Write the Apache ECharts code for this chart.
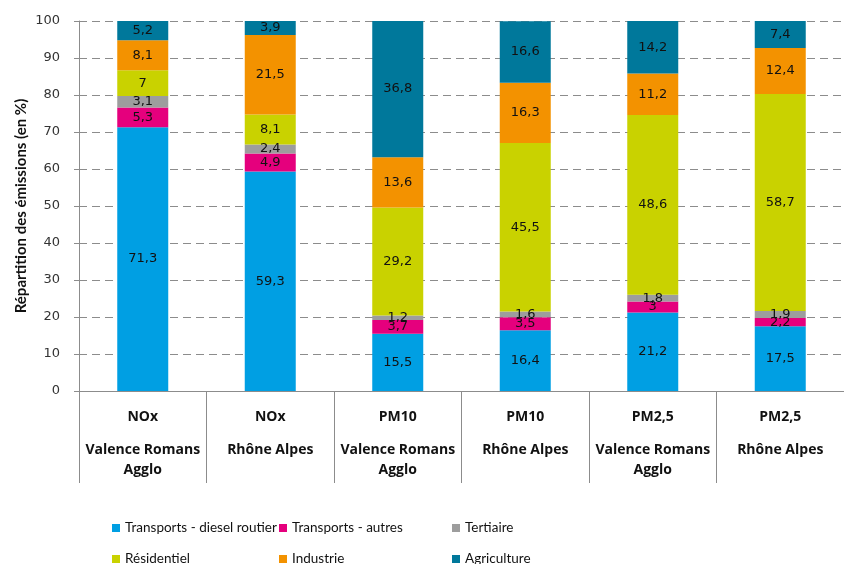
<!DOCTYPE html>
<html>
<head>
<meta charset="utf-8">
<script src="https://cdn.jsdelivr.net/npm/echarts@6/dist/echarts.min.js"></script>
<style>html,body{margin:0;padding:0;background:#fff}#c{width:844px;height:564px}</style>
</head>
<body>
<div id="c"></div>
<script>
var pollutants = ['NOx', 'NOx', 'PM10', 'PM10', 'PM2,5', 'PM2,5'];
var territories = ['Valence Romans\nAgglo', 'Rhône Alpes', 'Valence Romans\nAgglo', 'Rhône Alpes', 'Valence Romans\nAgglo', 'Rhône Alpes'];
var seriesNames = ['Transports - diesel routier', 'Transports - autres', 'Tertiaire', 'Résidentiel', 'Industrie', 'Agriculture'];
var dieselRoutier = [71.3, 59.3, 15.5, 16.4, 21.2, 17.5];
var transportsAutres = [5.3, 4.9, 3.7, 3.5, 3, 2.2];
var tertiaire = [3.1, 2.4, 1.2, 1.6, 1.8, 1.9];
var residentiel = [7, 8.1, 29.2, 45.5, 48.6, 58.7];
var industrie = [8.1, 21.5, 13.6, 16.3, 11.2, 12.4];
var agriculture = [5.2, 3.9, 36.8, 16.6, 14.2, 7.4];
var yTicks = [0, 10, 20, 30, 40, 50, 60, 70, 80, 90, 100];

var colors = ['#009FE3', '#E5007D', '#9D9D9D', '#C9D200', '#F39200', '#00789B'];
var allData = [dieselRoutier, transportsAutres, tertiaire, residentiel, industrie, agriculture];
var categories = pollutants.map(function (p, i) { return p + '|' + territories[i]; });

var series = seriesNames.map(function (n, i) {
  return {
    name: n,
    type: 'bar',
    stack: 'total',
    barWidth: '40%',
    itemStyle: { color: colors[i] },
    label: {
      show: true,
      position: 'inside',
      color: '#111',
      fontFamily: 'DejaVu Sans',
      fontSize: 13,
      formatter: function (p) { return String(p.value).replace('.', ','); }
    },
    data: allData[i]
  };
});

var legendFont = { fontFamily: 'Lato', fontSize: 13.5, color: '#111' };
var legendPos = [[112, 521], [279, 521], [452, 521], [112, 552], [279, 552], [452, 552]];
var legends = seriesNames.map(function (n, i) {
  return {
    left: legendPos[i][0], top: legendPos[i][1], padding: 0,
    itemWidth: 8, itemHeight: 8, icon: 'rect', itemGap: 0,
    textStyle: legendFont, data: [n], selectedMode: false
  };
});

var chart = echarts.init(document.getElementById('c'));
chart.setOption({
  animation: false,
  color: colors,
  grid: { left: 79, top: 21, width: 773, bottom: 173, containLabel: false },
  legend: legends,
  xAxis: {
    type: 'category',
    data: categories,
    axisLine: { lineStyle: { color: '#8c8c8c' } },
    axisTick: { show: true, length: 92, lineStyle: { color: '#8c8c8c' } },
    axisLabel: {
      interval: 0,
      margin: 3,
      formatter: function (v) {
        var parts = v.split('|');
        var lines = parts[1].split('\n');
        return '{a|' + parts[0] + '}\n' + lines.map(function (l) { return '{b|' + l + '}'; }).join('\n');
      },
      rich: {
        a: { fontFamily: 'Open Sans', fontWeight: 'bold', fontSize: 14, color: '#111', lineHeight: 46 },
        b: { fontFamily: 'Open Sans', fontWeight: 'bold', fontSize: 14, color: '#111', lineHeight: 20 }
      }
    }
  },
  yAxis: {
    type: 'value',
    min: yTicks[0],
    max: yTicks[yTicks.length - 1],
    interval: 10,
    name: 'Répartition des émissions (en %)',
    nameLocation: 'middle',
    nameGap: 50,
    nameMoveOverlap: false,
    nameTextStyle: { fontFamily: 'Lato', fontWeight: 'bold', fontSize: 15, color: '#111' },
    axisLine: { show: true, lineStyle: { color: '#8c8c8c' } },
    axisTick: { show: true, length: 5, lineStyle: { color: '#8c8c8c' } },
    axisLabel: { fontFamily: 'DejaVu Sans', fontSize: 13, color: '#333', margin: 19 },
    splitLine: { lineStyle: { color: '#8c8c8c', type: [8, 5] } }
  },
  series: series
});
</script>
</body>
</html>
